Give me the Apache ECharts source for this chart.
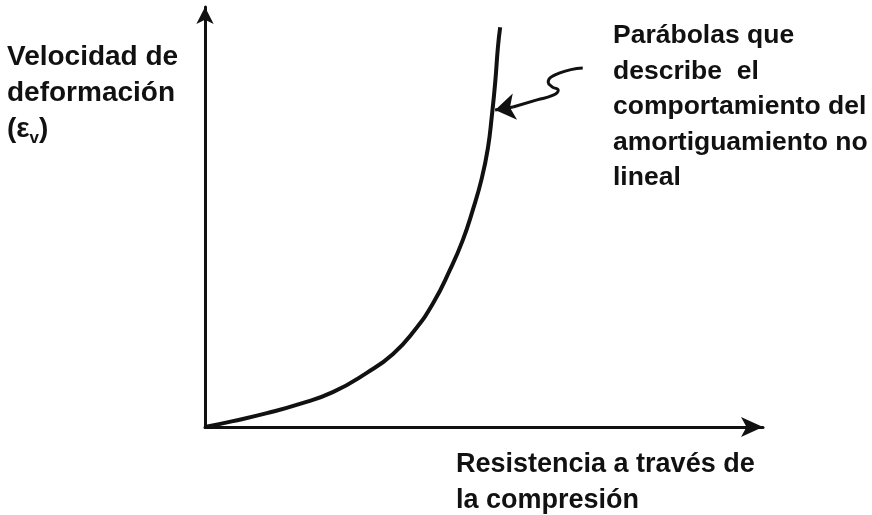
<!DOCTYPE html>
<html>
<head>
<meta charset="utf-8">
<script src="https://cdn.jsdelivr.net/npm/echarts@6/dist/echarts.min.js"></script>
<style>
  html, body { margin: 0; padding: 0; background: #fff; }
  #chart { width: 872px; height: 515px; }
</style>
</head>
<body>
<div id="chart"></div>
<script>
// curva: resistencia (x) contra velocidad de deformación (y), unidades arbitrarias 0-100
const curveX = [0, 5.0, 11.1, 17.0, 22.9, 29.0, 33.7, 37.6, 40.9, 43.9, 46.2, 48.0, 49.6, 50.7, 51.4, 52.0, 52.5, 52.9];
const curveY = [0, 1.4, 3.3, 5.5, 8.3, 12.9, 17.4, 23.1, 29.5, 37.4, 44.5, 51.7, 59.2, 66.4, 74.0, 81.9, 90.5, 95.2];

// trazo ondulado que señala la curva (el último tramo lleva la punta de flecha)
const noteX = [67.7, 63.6, 61.5, 62.2, 63.3, 62.4, 59.5, 55.2];
const noteY = [85.5, 84.3, 82.1, 81.0, 80.2, 79.0, 77.9, 76.2];
const noteTip = [52.0, 75.5];

const yLabelLines = ['Velocidad de', 'deformación'];
const noteLines = ['Parábolas que', 'describe  el', 'comportamiento del', 'amortiguamiento no', 'lineal'];
const xLabelLines = ['Resistencia a través de', 'la compresión'];

const INK = '#111';
const FONT = '"Liberation Sans", Arial, sans-serif';

const chart = echarts.init(document.getElementById('chart'));

const axisBase = {
  type: 'value',
  min: 0,
  max: 100,
  axisTick: { show: false },
  axisLabel: { show: false },
  splitLine: { show: false }
};

const textStyle = (text, extra) => Object.assign({
  text: text,
  fontFamily: FONT,
  fontSize: 27,
  fontWeight: 'bold',
  lineHeight: 36,
  fill: INK
}, extra);

const notePts = noteX.map((x, i) => [x, noteY[i]]);

chart.setOption({
  animation: false,
  backgroundColor: '#fff',
  grid: { left: 205, top: 7, right: 109, bottom: 88 },
  xAxis: Object.assign({}, axisBase, {
    axisLine: {
      show: true,
      onZero: false,
      symbol: ['none', 'arrow'],
      symbolSize: [15, 22],
      lineStyle: { color: INK, width: 3 }
    }
  }),
  yAxis: Object.assign({}, axisBase, {
    axisLine: {
      show: true,
      onZero: false,
      symbol: ['none', 'arrow'],
      symbolSize: [13, 17],
      lineStyle: { color: INK, width: 3 }
    }
  }),
  series: [
    {
      type: 'line',
      data: curveX.map((x, i) => [x, curveY[i]]),
      smooth: 0.5,
      symbol: 'none',
      clip: false,
      lineStyle: { color: INK, width: 4 }
    },
    {
      type: 'line',
      data: notePts,
      smooth: 0.5,
      symbol: 'none',
      clip: false,
      lineStyle: { color: INK, width: 3 }
    },
    {
      type: 'lines',
      coordinateSystem: 'cartesian2d',
      symbol: ['none', 'arrow'],
      symbolSize: [13, 20],
      lineStyle: { color: INK, width: 3, opacity: 1, curveness: 0 },
      data: [{ coords: [notePts[notePts.length - 1], noteTip] }]
    }
  ],
  graphic: [
    {
      type: 'text',
      left: 7,
      top: 39,
      style: textStyle(yLabelLines.join('\n') + '\n{a|(ε}{s|v}{a|)}', {
        fontSize: 28,
        rich: {
          a: { fontFamily: FONT, fontSize: 28, fontWeight: 'bold', lineHeight: 36, fill: INK },
          s: { fontFamily: FONT, fontSize: 17, fontWeight: 'bold', lineHeight: 17, fill: INK, verticalAlign: 'bottom' }
        }
      })
    },
    {
      type: 'text',
      left: 613,
      top: 18,
      style: textStyle(noteLines.join('\n'), { fontSize: 26.5, lineHeight: 35.5 })
    },
    {
      type: 'text',
      left: 456,
      top: 447,
      style: textStyle(xLabelLines.join('\n'))
    }
  ]
});
</script>
</body>
</html>
